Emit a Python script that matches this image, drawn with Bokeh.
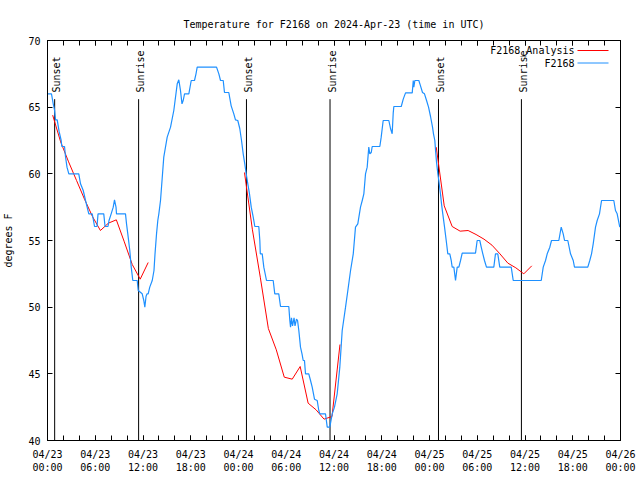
import math
from bokeh.plotting import figure
from bokeh.models import FixedTicker, LinearAxis, Range1d, Label, Arrow
from bokeh.embed import file_html
from bokeh.resources import INLINE
from bokeh.core.properties import value

# ---- data (time in hours since 2024-04-23 00:00 UTC) ----
obs_hours = [0.06, 0.50, 0.72, 0.88, 1.01, 1.22, 1.45, 1.72, 1.80, 2.14, 2.26, 2.45, 2.68, 3.93,
             4.15, 4.49, 4.78, 5.19, 5.62, 5.78, 5.91, 6.22, 6.35, 7.07, 7.23, 7.60, 7.73, 8.00,
             8.26, 8.42, 8.61, 8.67, 9.80, 9.93, 10.09, 10.34, 10.52, 10.72, 11.27, 11.40, 11.90,
             12.10, 12.23, 12.38, 12.50, 12.65, 12.85, 13.16, 13.38, 13.51, 13.70, 13.86, 13.99,
             14.20, 14.39, 14.61, 15.04, 15.46, 15.87, 16.30, 16.50, 16.71, 16.90, 17.05, 17.22,
             17.76, 18.06, 18.47, 18.66, 18.81, 21.24, 21.53, 21.74, 22.08, 22.24, 22.78, 23.08,
             23.41, 23.62, 23.91, 24.16, 24.38, 24.59, 24.79, 24.97, 25.17, 25.38, 25.60, 25.85,
             26.05, 26.55, 26.68, 26.74, 26.98, 27.18, 27.52, 28.36, 28.56, 29.06, 29.28, 30.32,
             30.45, 30.54, 30.66, 30.79, 30.98, 31.10, 31.29, 31.42, 31.58, 31.79, 31.98, 32.13,
             32.29, 32.42, 32.83, 33.05, 33.26, 33.55, 33.89, 34.09, 34.22, 34.93, 35.15, 35.47,
             35.78, 36.06, 36.40, 36.73, 37.03, 37.45, 37.74, 38.08, 38.42, 38.70, 38.99, 39.33,
             39.55, 39.75, 39.96, 40.17, 40.37, 40.50, 40.68, 40.80, 41.76, 41.93, 42.18, 42.89,
             43.10, 43.31, 43.44, 43.52, 44.45, 44.70, 44.99, 45.83, 45.96, 46.03, 46.16, 46.66,
             46.87, 47.12, 47.37, 47.63, 47.88, 48.13, 48.38, 48.50, 48.67, 48.76, 48.88, 49.05,
             49.17, 49.38, 49.51, 49.67, 49.89, 50.10, 50.30, 50.55, 50.73, 50.85, 51.06, 51.27,
             51.48, 51.69, 51.90, 52.11, 53.78, 53.99, 54.32, 54.50, 54.70, 54.91, 55.16, 56.08,
             56.29, 56.58, 56.83, 58.27, 58.52, 62.04, 62.29, 62.58, 62.79, 63.12, 63.33, 64.25,
             64.55, 64.80, 64.97, 65.38, 65.72, 66.06, 66.22, 67.89, 68.14, 68.36, 68.57, 68.86,
             69.07, 69.36, 69.62, 71.16, 71.37, 71.58, 71.91]
obs_temp = [66.0, 66.0, 65.25, 64.8, 64.05, 64.05, 63.2, 62.5, 62.05, 62.05, 61.3, 60.5, 60.0, 60.0,
            59.25, 58.75, 58.0, 57.0, 57.0, 56.5, 56.05, 56.05, 57.0, 57.0, 56.05, 56.05, 56.5, 57.0,
            57.5, 58.05, 57.5, 57.0, 57.0, 56.25, 55.5, 54.25, 53.0, 52.0, 52.0, 51.25, 51.0,
            50.5, 50.0, 50.8, 51.0, 51.0, 51.5, 52.0, 52.75, 54.0, 55.5, 56.5, 57.0,
            58.0, 59.5, 61.25, 62.75, 63.5, 64.75, 66.75, 67.05, 66.25, 65.25, 65.5, 66.0,
            66.0, 67.0, 67.0, 67.5, 68.0, 68.0, 67.5, 67.0, 67.0, 66.1, 66.1, 65.1,
            64.5, 64.05, 64.0, 63.4, 62.5, 61.5, 60.75, 60.0, 59.25, 58.5, 57.5, 56.75,
            56.05, 56.05, 55.0, 54.0, 54.0, 53.0, 52.0, 52.0, 51.0, 51.0, 50.05, 50.05,
            49.0, 48.5, 49.2, 48.6, 49.2, 48.6, 49.1, 49.0, 48.25, 47.0, 46.5, 46.0,
            46.0, 45.0, 45.0, 44.5, 44.0, 43.1, 43.0, 42.25, 42.0, 42.0, 41.0, 41.0,
            42.0, 42.5, 43.5, 45.5, 48.25, 50.0, 51.25, 52.75, 54.0, 56.0, 56.25, 57.5,
            58.0, 58.5, 60.0, 60.5, 62.0, 61.5, 61.6, 62.05, 62.05, 62.75, 64.0, 64.0,
            63.4, 63.0, 64.55, 65.05, 65.05, 65.6, 66.07, 66.07, 67.0, 66.5, 67.0, 67.0,
            66.6, 66.1, 66.0, 65.5, 65.0, 64.3, 63.5, 63.0, 62.5, 61.75, 60.9, 60.0,
            59.5, 58.5, 57.75, 57.0, 56.0, 55.0, 54.0, 54.0, 53.5, 53.0, 53.0, 52.0,
            53.0, 53.0, 53.5, 54.05, 54.05, 55.0, 55.0, 54.5, 54.0, 53.5, 53.0, 53.0,
            54.0, 54.0, 53.0, 53.0, 52.0, 52.0, 53.0, 53.5, 54.0, 54.5, 55.0, 55.0,
            56.0, 55.5, 55.0, 55.0, 54.0, 53.5, 53.0, 53.0, 53.5, 54.0, 54.75, 56.0,
            56.5, 57.0, 58.0, 58.0, 57.25, 57.0, 56.0]

ana1_hours = [0.65, 1.65, 2.65, 3.65, 4.65, 5.65, 6.65, 7.65, 8.65, 9.65, 10.65, 11.65, 12.65]
ana1_temp = [64.4, 62.4, 60.9, 59.5, 58.1, 56.8, 55.75, 56.3, 56.55, 54.9, 53.2, 52.1, 53.35]
ana2_hours = [24.75, 25.75, 26.75, 27.75, 28.75, 29.75, 30.75, 31.75, 32.75, 33.75, 34.75, 35.75, 36.75]
ana2_temp = [60.1, 55.8, 52.2, 48.4, 46.8, 44.75, 44.6, 45.55, 42.8, 42.3, 41.6, 41.8, 47.2]
ana3_hours = [48.85, 49.85, 50.85, 51.85, 52.85, 53.85, 54.85, 55.85, 56.85, 57.85, 58.85, 59.85, 60.85]
ana3_temp = [62.0, 57.6, 56.05, 55.7, 55.75, 55.45, 55.1, 54.65, 54.0, 53.3, 52.95, 52.5, 53.1]

sun_hours = [0.9, 11.45, 25.0, 35.5, 49.13, 59.55]
sun_labels = ["Sunset", "Sunrise", "Sunset", "Sunrise", "Sunset", "Sunrise"]

x_tick_hours = [0, 6, 12, 18, 24, 30, 36, 42, 48, 54, 60, 66, 72]
x_tick_labels = ["04/23\n00:00", "04/23\n06:00", "04/23\n12:00", "04/23\n18:00",
                 "04/24\n00:00", "04/24\n06:00", "04/24\n12:00", "04/24\n18:00",
                 "04/25\n00:00", "04/25\n06:00", "04/25\n12:00", "04/25\n18:00",
                 "04/26\n00:00"]
x_minor_hours = list(range(0, 73, 2))
y_ticks = [40, 45, 50, 55, 60, 65, 70]

legend_names = ["F2168_Analysis", "F2168"]
RED = "#ff0000"
BLUE = "#1e90ff"
FONT = "DejaVu Sans Mono"
FS = "10px"

p = figure(width=640, height=480, output_backend="svg", toolbar_location=None,
           x_range=Range1d(0, 72), y_range=Range1d(40, 70),
           min_border_left=47, min_border_right=20, min_border_top=40, min_border_bottom=40,
           title="Temperature for F2168 on 2024-Apr-23 (time in UTC)")
p.title.align = "center"
p.title.text_font = FONT
p.title.text_font_size = FS
p.title.text_font_style = "normal"
p.title.text_color = "black"
p.title.standoff = 22

p.grid.visible = False
p.outline_line_color = "black"
p.outline_line_width = 1
p.background_fill_color = "white"
p.border_fill_color = "white"

xt = FixedTicker(ticks=x_tick_hours, minor_ticks=x_minor_hours)
yt = FixedTicker(ticks=y_ticks)

xa = p.xaxis[0]
xa.ticker = xt
xa.major_label_overrides = {h: lab for h, lab in zip(x_tick_hours, x_tick_labels)}
ya = p.yaxis[0]
ya.ticker = yt
ya.axis_label = "degrees F"

# mirrored tick marks on top and right, without labels
top = LinearAxis(ticker=xt)
top.major_label_overrides = {h: "" for h in x_tick_hours}
right = LinearAxis(ticker=yt)
right.major_label_overrides = {t: "" for t in y_ticks}
p.add_layout(top, "above")
p.add_layout(right, "right")

for ax in [xa, ya, top, right]:
    ax.axis_line_color = "black"
    ax.major_tick_line_color = "black"
    ax.minor_tick_line_color = "black"
    ax.major_tick_in = 5
    ax.major_tick_out = 0
    ax.minor_tick_in = 5
    ax.minor_tick_out = 0
    ax.major_label_text_font = FONT
    ax.major_label_text_font_size = FS
    ax.major_label_text_color = "black"
    ax.axis_label_text_font = FONT
    ax.axis_label_text_font_size = FS
    ax.axis_label_text_font_style = "normal"
    ax.axis_label_text_color = "black"
for ax in [ya, right]:
    ax.minor_tick_line_color = None
top.major_label_standoff = 0
right.major_label_standoff = 0
xa.major_label_standoff = 8
ya.major_label_standoff = 7
ya.axis_label_standoff = 11

# sunrise / sunset markers
p.segment(x0=sun_hours, y0=65.6, x1=sun_hours, y1=40, line_color="black", line_width=1)
p.text(x=sun_hours, y=66.1, text=sun_labels, angle=math.pi / 2, text_align="left",
       text_baseline="middle", text_font=value(FONT), text_font_size=FS, text_color="black",
       x_offset=2)

# series
p.multi_line(xs=[ana1_hours, ana2_hours, ana3_hours], ys=[ana1_temp, ana2_temp, ana3_temp],
             line_color=RED, line_width=1)
p.line(obs_hours, obs_temp, line_color=BLUE, line_width=1.2)

# legend (text left of sample line, as in gnuplot)
for i, (name, col) in enumerate(zip(legend_names, [RED, BLUE])):
    yy = 390 - 12.5 * i
    p.add_layout(Label(x=527, y=yy, x_units="screen", y_units="screen", text=name,
                       text_align="right", text_baseline="middle", text_font=FONT,
                       text_font_size=FS, text_color="black"))
    p.add_layout(Arrow(end=None, x_start=530, y_start=yy, x_end=561, y_end=yy,
                       start_units="screen", end_units="screen", line_color=col, line_width=1))

open("out.html", "w").write(file_html(p, INLINE))
